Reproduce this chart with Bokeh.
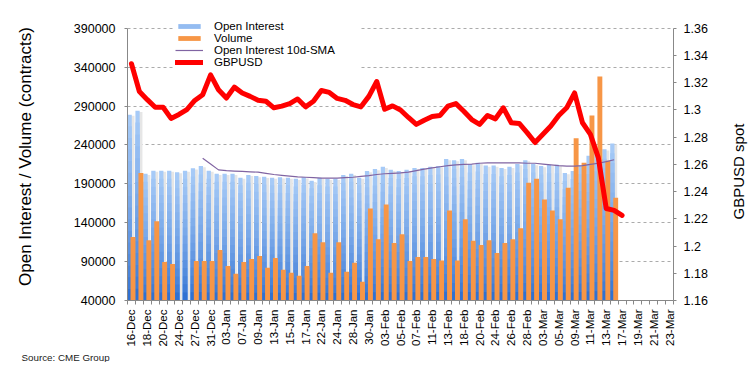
import math
import numpy as np
from bokeh.plotting import figure
from bokeh.models import (Range1d, LinearAxis, FixedTicker, Legend, LegendItem,
                          Title, Label, BasicTickFormatter)
from bokeh.embed import file_html
from bokeh.resources import INLINE

# ---------------- data ----------------
dates = ["16-Dec", "17-Dec", "18-Dec", "19-Dec", "20-Dec", "23-Dec", "24-Dec", "26-Dec",
         "27-Dec", "30-Dec", "31-Dec", "02-Jan", "03-Jan", "06-Jan", "07-Jan", "08-Jan",
         "09-Jan", "10-Jan", "13-Jan", "14-Jan", "15-Jan", "16-Jan", "17-Jan", "21-Jan",
         "22-Jan", "23-Jan", "24-Jan", "27-Jan", "28-Jan", "29-Jan", "30-Jan", "31-Jan",
         "03-Feb", "04-Feb", "05-Feb", "06-Feb", "07-Feb", "10-Feb", "11-Feb", "12-Feb",
         "13-Feb", "14-Feb", "18-Feb", "19-Feb", "20-Feb", "21-Feb", "24-Feb", "25-Feb",
         "26-Feb", "27-Feb", "28-Feb", "02-Mar", "03-Mar", "04-Mar", "05-Mar", "06-Mar",
         "09-Mar", "10-Mar", "11-Mar", "12-Mar", "13-Mar", "16-Mar", "17-Mar", "18-Mar",
         "19-Mar", "20-Mar", "21-Mar", "22-Mar", "23-Mar"]

open_interest = [279000, 284000, 203000, 207000, 207000, 207000, 205000, 207000,
                 210000, 213000, 207000, 203000, 203000, 203000, 198000, 201500,
                 200000, 199000, 198000, 198500, 198000, 196500, 198500, 194000,
                 198000, 196500, 196500, 201500, 203000, 198000, 206500, 209000,
                 212000, 208000, 206500, 208000, 210500, 210500, 212000, 213000,
                 222000, 220500, 222000, 215500, 217000, 213500, 213500, 210500,
                 212000, 215500, 220500, 215500, 213000, 214500, 214500, 204000,
                 206500, 213500, 226000, 230000, 234500, 242000]

volume = [121500, 204000, 117600, 141800, 89600, 87000, None, None,
          90900, 90900, 90900, 104900, 84500, 74400, 89600, 93500,
          97300, 82000, 94700, 79500, 75600, 71800, 84500, 126500,
          115000, 75600, 115000, 76900, 88400, 64200, 158400, 118900,
          163500, 113800, 125300, 90900, 96000, 96000, 93500, 91300,
          155800, 91300, 144400, 116800, 111300, 117600, 101000, 113800,
          118900, 132900, 191500, 196500, 169800, 155800, 144400, 185000,
          248500, 217000, 278000, 328000, 219800, 172000]

oi_sma10 = [None, None, None, None, None, None, None, None, None,
            223000, 215500, 208000, 207000, 206500, 206000, 205500, 205000,
            203500, 202000, 201000, 200000, 199000, 198500, 198000, 197500,
            197500, 197500, 198000, 198500, 199500, 200500, 202000, 203000,
            203500, 204000, 205000, 207000, 209000, 210500, 212000, 213500,
            214500, 215000, 215500, 216500, 217000, 217000, 217000, 217000,
            217000, 216500, 216500, 215500, 214500, 213500, 212700, 212700,
            213500, 215000, 216500, 218500, 221000]

gbpusd = [1.334, 1.3136, 1.3076, 1.302, 1.302, 1.2938, 1.2967, 1.3003,
          1.307, 1.3112, 1.3258, 1.3149, 1.3088, 1.3168, 1.3125, 1.310,
          1.3071, 1.3064, 1.3016, 1.3028, 1.3047, 1.3081, 1.3023, 1.3064,
          1.3143, 1.3129, 1.3085, 1.3071, 1.304, 1.3023, 1.310, 1.3209,
          1.3005, 1.303, 1.300, 1.2945, 1.2894, 1.2925, 1.2952, 1.296,
          1.3028, 1.3047, 1.2991, 1.293, 1.2894, 1.296, 1.2935, 1.3016,
          1.2906, 1.2901, 1.2834, 1.2761, 1.2821, 1.2882, 1.296, 1.3016,
          1.3125, 1.2906, 1.2821, 1.265, 1.2276, 1.2262, 1.2225]

left_ticks = [40000, 90000, 140000, 190000, 240000, 290000, 340000, 390000]
right_ticks = [1.16, 1.18, 1.2, 1.22, 1.24, 1.26, 1.28, 1.3, 1.32, 1.34, 1.36]
right_tick_labels = ["1.16", "1.18", "1.2", "1.22", "1.24", "1.26", "1.28", "1.3",
                     "1.32", "1.34", "1.36"]

# ---------------- helpers ----------------
n = len(dates)
FONT = "Liberation Sans"
Y0, Y1 = left_ticks[0], left_ticks[-1]
R0, R1 = right_ticks[0], right_ticks[-1]
W, H = 748, 362
AX_H = 275            # pixel height between bottom and top ticks
HEAD = 16             # extra frame space above top tick (for the legend)
TOP = 28 - HEAD
BOTTOM = TOP + HEAD + AX_H   # page y of the x axis


def pad(a):
    out = [np.nan if v is None else float(v) for v in a]
    return out + [np.nan] * (n - len(out))


oi = pad(open_interest)
vol = pad(volume)
sma = pad(oi_sma10)
fx = pad(gbpusd)
idx = np.arange(n)
xc = 2 * idx + 1.0          # category centres (axis unit = half a category)

y_end = Y1 + (Y1 - Y0) * HEAD / AX_H
r_end = R1 + (R1 - R0) * HEAD / AX_H

p = figure(width=W, height=H, output_backend="svg", toolbar_location=None,
           x_range=Range1d(0, 2 * n), y_range=Range1d(Y0, y_end),
           min_border_left=127, min_border_right=75, min_border_top=TOP,
           min_border_bottom=H - BOTTOM)
p.outline_line_color = None
p.background_fill_color = "white"
p.border_fill_color = "white"
p.extra_y_ranges = {"fx": Range1d(R0, r_end)}

# grid
p.xgrid.visible = False
p.ygrid.ticker = FixedTicker(ticks=left_ticks)
p.ygrid.grid_line_color = "#ababab"
p.ygrid.grid_line_dash = "3 3"
p.ygrid.grid_line_width = 1

# ---- open interest bars: shadow + vertical gradient ----
oi_arr = np.array(oi)
p.vbar(x=xc - 1 + 1.24, bottom=Y0, top=oi_arr - 1500, width=1.07,
       fill_color="#e6e6e6", line_color=None)
top_c = np.array([0xA6, 0xCA, 0xF7])
bot_c = np.array([0x30, 0x71, 0xD2])
NSEG = 16
oi_renderers = []
for k in range(NSEG, 0, -1):
    t = k / NSEG
    f = ((k - 1) / (NSEG - 1)) ** 0.75
    c = bot_c + (top_c - bot_c) * f
    col = "#%02x%02x%02x" % tuple(int(round(v)) for v in c)
    r = p.vbar(x=xc - 1 + 0.54, bottom=Y0, top=Y0 + (oi_arr - Y0) * t, width=1.08,
               fill_color=col, line_color=None)
    oi_renderers.append(r)

# ---- volume bars ----
vol_r = p.vbar(x=xc - 1 + 1.39, bottom=Y0, top=np.array(vol), width=1.24,
               fill_color="#f79646", line_color=None)

# ---- SMA & GBPUSD lines ----
sma_r = p.line(x=xc, y=np.array(sma), line_color="#8064a2", line_width=1.2)
fx_r = p.line(x=xc, y=np.array(fx), y_range_name="fx", line_color="#ff0000",
              line_width=5, line_join="round", line_cap="round")

# ---------------- axes ----------------
yax = p.yaxis[0]
yax.bounds = (Y0, Y1)
yax.ticker = FixedTicker(ticks=left_ticks)
yax.formatter = BasicTickFormatter(use_scientific=False)
yax.axis_label = "Open Interest / Volume (contracts)"
yax.axis_label_text_font = FONT
yax.axis_label_text_font_size = "17px"
yax.axis_label_text_font_style = "normal"
yax.axis_label_text_color = "black"
yax.axis_label_standoff = 36
yax.major_label_text_font = FONT
yax.major_label_text_font_size = "12.5px"
yax.major_label_text_color = "black"
yax.major_label_standoff = 9
yax.axis_line_color = "#888888"
yax.major_tick_line_color = "#888888"
yax.major_tick_out = 3
yax.major_tick_in = 0
yax.minor_tick_line_color = None

rax = LinearAxis(y_range_name="fx", ticker=FixedTicker(ticks=right_ticks),
                 major_label_overrides=dict(zip(right_ticks, right_tick_labels)))
rax.bounds = (R0, R1)
rax.major_label_text_font = FONT
rax.major_label_text_font_size = "12.5px"
rax.major_label_text_color = "black"
rax.major_label_standoff = 7
rax.axis_line_color = "#888888"
rax.major_tick_line_color = "#888888"
rax.major_tick_out = 3
rax.major_tick_in = 0
rax.minor_tick_line_color = None
p.add_layout(rax, "right")

# right-hand axis title, placed in its own side panel beyond the right axis
right_title = Label(x=28, y=BOTTOM - 174, x_units="screen", y_units="screen",
                    text="GBPUSD spot", angle=math.pi / 2, text_font=FONT,
                    text_font_size="15px", text_color="black",
                    text_align="center", text_baseline="middle")
p.add_layout(right_title, "right")

xax = p.xaxis[0]
xax.ticker = FixedTicker(ticks=[2 * i + 1 for i in range(0, n, 2)],
                         minor_ticks=[2 * i for i in range(n + 1)])
xax.major_label_overrides = {2 * i + 1: dates[i] for i in range(0, n, 2)}
xax.major_label_orientation = math.pi / 2
xax.major_label_text_font = FONT
xax.major_label_text_font_size = "11.5px"
xax.major_label_text_color = "black"
xax.major_label_standoff = 5
xax.major_tick_out = 0
xax.major_tick_in = 0
xax.minor_tick_out = 4
xax.minor_tick_in = 0
xax.minor_tick_line_color = "#888888"
xax.axis_line_color = "#888888"

# ---------------- legend ----------------
leg_h = 4 * 12 + 6
leg_top = 17
leg_y = BOTTOM - (leg_top + leg_h)
legend = Legend(items=[
    LegendItem(label="Open Interest", renderers=[oi_renderers[3]]),
    LegendItem(label="Volume", renderers=[vol_r]),
    LegendItem(label="Open Interest 10d-SMA", renderers=[sma_r]),
    LegendItem(label="GBPUSD", renderers=[fx_r]),
], location=(175 - 127, leg_y))
legend.padding = 3
legend.margin = 0
legend.spacing = 0
legend.glyph_width = 28
legend.glyph_height = 6
legend.label_height = 12
legend.label_width = 146
legend.label_standoff = 11
legend.label_text_font = FONT
legend.label_text_font_size = "11.5px"
legend.label_text_color = "black"
legend.background_fill_color = "white"
legend.background_fill_alpha = 1.0
legend.border_line_color = None
p.add_layout(legend, "center")

# ---------------- source note ----------------
src = Title(text="Source: CME Group", align="left", offset=21 - 127,
            text_font=FONT, text_font_size="9.8px", text_font_style="normal",
            text_color="#222222", standoff=0)
p.add_layout(src, "below")

open("out.html", "w").write(file_html(p, INLINE))
